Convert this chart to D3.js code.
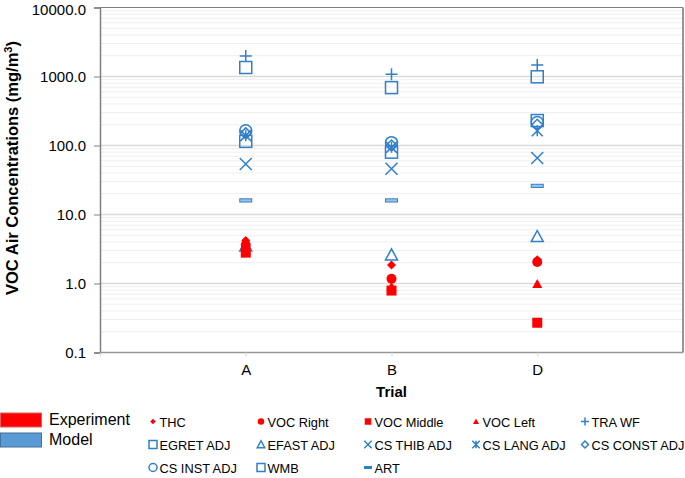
<!DOCTYPE html>
<html><head><meta charset="utf-8">
<script src="https://cdn.jsdelivr.net/npm/d3@7"></script>
<style>body{margin:0;background:#fff}svg{font-family:"Liberation Sans",Arial,sans-serif}</style>
</head><body>
<svg id="c" width="685" height="478"></svg>
<script>
const trials = ["A","B","D"];
const trialX = [1,2,3];
const yTicks = [0.1,1,10,100,1000,10000];
const series = [
  {name:"THC",          group:"exp",   shape:"diamondF",  values:[4.2,1.85,2.2]},
  {name:"VOC Right",    group:"exp",   shape:"circleF",   values:[3.6,1.17,2.05]},
  {name:"VOC Middle",   group:"exp",   shape:"squareF",   values:[2.8,0.79,0.27]},
  {name:"VOC Left",     group:"exp",   shape:"triangleF", values:[3.0,0.9,0.98]},
  {name:"TRA WF",       group:"model", shape:"plus",      values:[1980,1080,1470]},
  {name:"EGRET ADJ",    group:"model", shape:"square",    values:[1350,690,990]},
  {name:"EFAST ADJ",    group:"model", shape:"triangle",  values:[3.5,2.6,4.8]},
  {name:"CS THIB ADJ",  group:"model", shape:"x",         values:[54,46,66]},
  {name:"CS LANG ADJ",  group:"model", shape:"asterisk",  values:[139,94,164]},
  {name:"CS CONST ADJ", group:"model", shape:"diamond",   values:[150,100,200]},
  {name:"CS INST ADJ",  group:"model", shape:"circle",    values:[164,110,216]},
  {name:"WMB",          group:"model", shape:"square",    values:[115,80,230]},
  {name:"ART",          group:"model", shape:"dash",      values:[16,16,26]}
];
const groups = [{name:"Experiment", color:"#FF0000", stroke:"#E06060"},{name:"Model", color:"#5B9BD5", stroke:"#41719C"}];

const RED="#FF0000", BLUE="#2F7FCB";
const svg = d3.select("#c");
const L=100, R=683, T=7.5, B=352.5;
const x = d3.scaleLinear().domain([0,4]).range([L,R]);
const y = d3.scaleLog().domain([0.1,10000]).range([B,T]);

// minor grid
const minor=[];
for(let e=-1;e<4;e++) for(let k=2;k<=9;k++) minor.push(k*Math.pow(10,e));
svg.append("g").selectAll("line").data(minor).join("line")
  .attr("x1",L).attr("x2",R).attr("y1",d=>y(d)).attr("y2",d=>y(d))
  .attr("stroke","#EFEFEF").attr("stroke-width",1);
svg.append("g").selectAll("line").data(yTicks.slice(1,-1)).join("line")
  .attr("x1",L).attr("x2",R).attr("y1",d=>y(d)).attr("y2",d=>y(d))
  .attr("stroke","#D9D9D9").attr("stroke-width",1.5);

// frame
svg.append("line").attr("x1",L).attr("x2",R).attr("y1",T).attr("y2",T).attr("stroke","#7F7F7F").attr("stroke-width",1.2);
svg.append("line").attr("x1",R).attr("x2",R).attr("y1",T).attr("y2",B).attr("stroke","#969696").attr("stroke-width",2);
svg.append("line").attr("x1",L).attr("x2",R).attr("y1",B).attr("y2",B).attr("stroke","#969696").attr("stroke-width",1.5);

// y axis
const yAxis = d3.axisLeft(y).tickValues(yTicks).tickFormat(d3.format(".1f")).tickSize(6).tickPadding(8);
const ya = svg.append("g").attr("transform",`translate(${L},0)`).call(yAxis);
ya.select(".domain").attr("stroke","#7F7F7F").attr("stroke-width",1.5);
ya.selectAll(".tick line").attr("stroke","#7F7F7F");
ya.selectAll("text").attr("font-size",15).attr("fill","#000").attr("font-family","Liberation Sans, Arial, sans-serif");
ya.selectAll(".tick").filter(d=>d===10000).select("text").attr("dy","0.45em");

// x axis
const xAxis = d3.axisBottom(x).tickValues([0].concat(trialX)).tickFormat(d=>d===0?"":trials[trialX.indexOf(d)]).tickSize(4).tickPadding(8);
const xa = svg.append("g").attr("transform",`translate(0,${B})`).call(xAxis);
xa.select(".domain").remove();
xa.selectAll(".tick line").attr("stroke","#D9D9D9");
xa.selectAll("text").attr("font-size",15).attr("fill","#000").attr("font-family","Liberation Sans, Arial, sans-serif");

// titles
svg.append("text").attr("x",(L+R)/2).attr("y",397).attr("text-anchor","middle")
  .attr("font-size",15).attr("font-weight","bold").text("Trial");
svg.append("text").attr("transform",`translate(18,168) rotate(-90)`).attr("text-anchor","middle")
  .attr("font-size",16.5).attr("font-weight","bold")
  .html('VOC Air Concentrations (mg/m<tspan dy="-6" font-size="11">3</tspan><tspan dy="6">)</tspan>');

function drawMarker(g, shape, s){
  const h=s/2;
  switch(shape){
    case "diamondF": g.append("path").attr("d",`M0,${-h}L${h},0L0,${h}L${-h},0Z`).attr("fill",RED); break;
    case "circleF": g.append("circle").attr("r",h).attr("fill",RED); break;
    case "squareF": g.append("rect").attr("x",-h).attr("y",-h).attr("width",s).attr("height",s).attr("fill",RED); break;
    case "triangleF": g.append("path").attr("d",`M0,${-h}L${h},${h*0.8}L${-h},${h*0.8}Z`).attr("fill",RED); break;
    case "plus": g.append("path").attr("d",`M${-h},0H${h}M0,${-h}V${h}`).attr("stroke",BLUE).attr("stroke-width",1.5).attr("fill","none"); break;
    case "square": g.append("rect").attr("x",-h).attr("y",-h).attr("width",s).attr("height",s).attr("fill","none").attr("stroke",BLUE).attr("stroke-width",1.5); break;
    case "triangle": g.append("path").attr("d",`M0,${-h}L${h},${h*0.85}L${-h},${h*0.85}Z`).attr("fill","none").attr("stroke",BLUE).attr("stroke-width",1.5); break;
    case "x": g.append("path").attr("d",`M${-h},${-h}L${h},${h}M${-h},${h}L${h},${-h}`).attr("stroke",BLUE).attr("stroke-width",1.5); break;
    case "asterisk": g.append("path").attr("d",`M${-h},${-h}L${h},${h}M${-h},${h}L${h},${-h}M0,${-h}V${h}`).attr("stroke",BLUE).attr("stroke-width",1.5); break;
    case "diamond": g.append("path").attr("d",`M0,${-h}L${h},0L0,${h}L${-h},0Z`).attr("fill","none").attr("stroke",BLUE).attr("stroke-width",1.5); break;
    case "circle": g.append("circle").attr("r",h).attr("fill","none").attr("stroke",BLUE).attr("stroke-width",1.5); break;
    case "dash": g.append("rect").attr("x",-h).attr("y",-1.6).attr("width",s).attr("height",3.2).attr("fill","#9DC3E6").attr("stroke",BLUE).attr("stroke-width",1); break;
    case "dashL": g.append("rect").attr("x",-h).attr("y",-1.5).attr("width",s).attr("height",3).attr("fill",BLUE); break;
  }
}
const sizeMap = {diamondF:9,circleF:10,squareF:10,triangleF:10,plus:12,square:12,triangle:12,x:12,asterisk:11,diamond:11,circle:12,dash:12};

const order = series.slice().reverse();
order.forEach(s=>{
  s.values.forEach((v,i)=>{
    const g = svg.append("g").attr("transform",`translate(${x(trialX[i])},${y(v)})`);
    drawMarker(g, s.shape, sizeMap[s.shape]);
  });
});

// group legend
groups.forEach((gr,i)=>{
  const yy = 413 + i*20;
  svg.append("rect").attr("x",0.5).attr("y",yy).attr("width",41).attr("height",14).attr("fill",gr.color).attr("stroke",gr.stroke).attr("stroke-width",1);
  svg.append("text").attr("x",49).attr("y",yy+12).attr("font-size",16).attr("fill","#000").text(gr.name);
});

// series legend
const colX = [153,261,368,476,585];
const rowY = [426,449,472];
const legSize = {diamondF:5.5,circleF:6.5,squareF:6.5,triangleF:6,plus:8,square:8,triangle:7.5,x:7.5,asterisk:7.5,diamond:7,circle:8,dashL:8};
series.forEach((s,i)=>{
  const c=i%5, r=Math.floor(i/5);
  const g = svg.append("g").attr("transform",`translate(${colX[c]},${rowY[r]-4.5})`);
  const shp = s.shape==="dash" ? "dashL" : s.shape;
  drawMarker(g, shp, legSize[shp]);
  svg.append("text").attr("x",colX[c]+6.5).attr("y",rowY[r]+0.5).attr("font-size",12.8).attr("fill","#000").text(s.name);
});
</script>
</body></html>
